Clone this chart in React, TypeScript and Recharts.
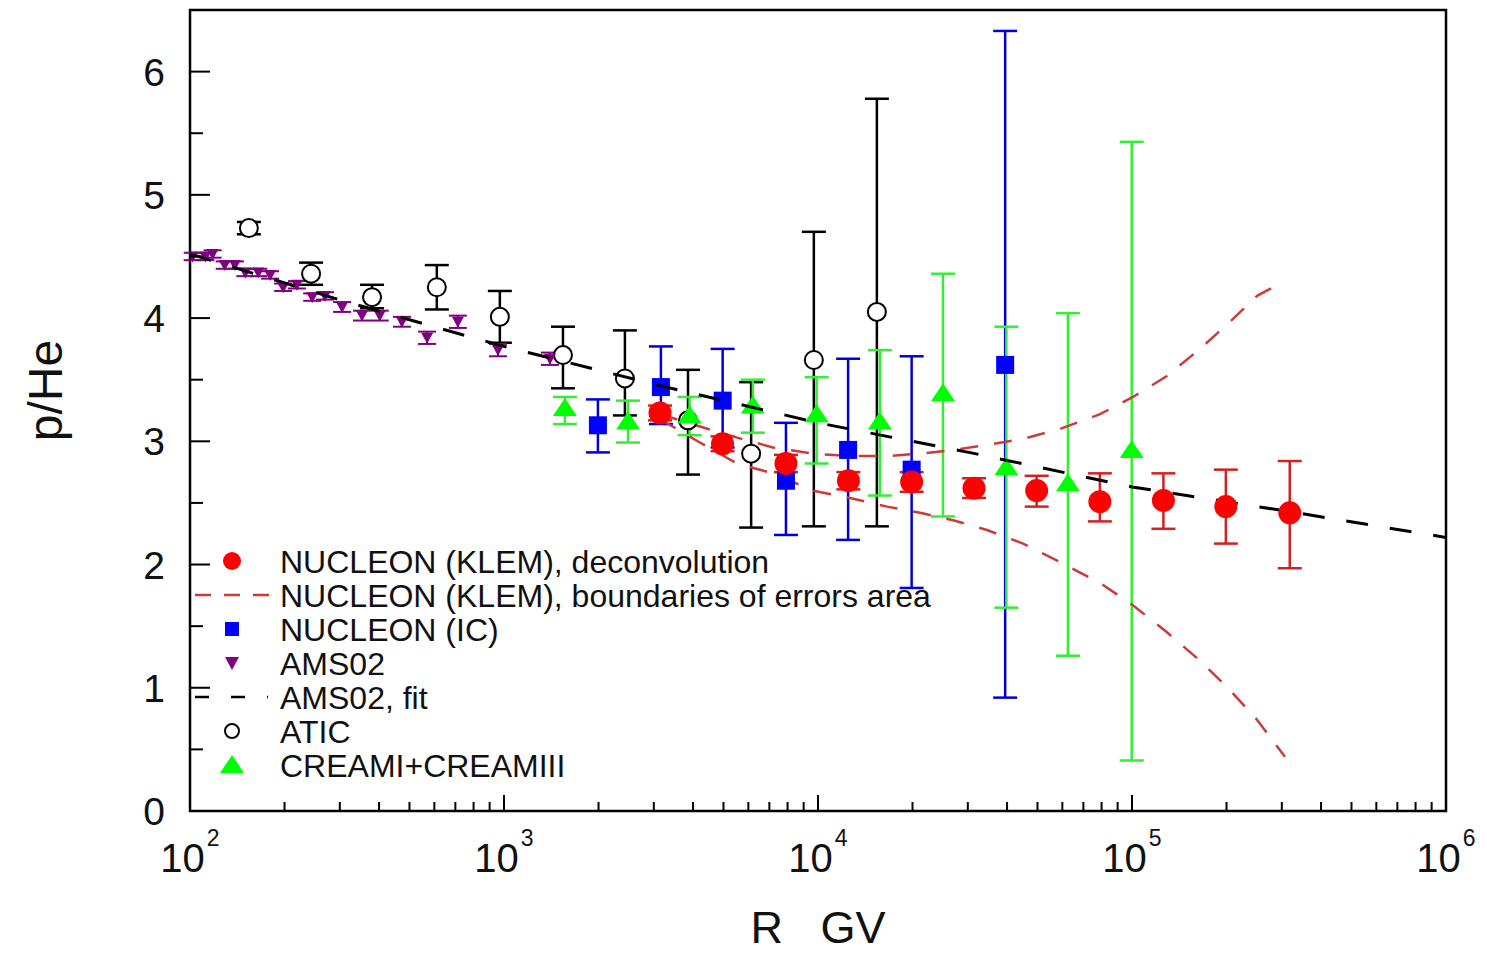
import React from 'react';
import { ScatterChart, Scatter, XAxis, YAxis, ErrorBar, ReferenceArea, Legend } from 'recharts';

const FONT = '"Liberation Sans", Arial, Helvetica, sans-serif';

// [R (GV), p/He, error down, error up]
const KLEM_POINTS = [
  [3140, 3.23, 0.06, 0.06],
  [4966, 2.98, 0.06, 0.06],
  [7906, 2.82, 0.07, 0.07],
  [12500, 2.68, 0.07, 0.07],
  [19870, 2.67, 0.08, 0.08],
  [31400, 2.62, 0.08, 0.08],
  [49700, 2.6, 0.13, 0.12],
  [79000, 2.51, 0.16, 0.23],
  [125900, 2.52, 0.23, 0.22],
  [199000, 2.47, 0.3, 0.3],
  [318000, 2.42, 0.45, 0.42],
];

// [R (GV), p/He]
const KLEM_UPPER = [
  [3141, 3.22], [4207, 3.12], [5521, 3.03], [7190, 2.95], [9640, 2.9],
  [12650, 2.88], [16600, 2.88], [21140, 2.9], [26920, 2.93], [34530, 2.97],
  [44980, 3.02], [59020, 3.1], [79120, 3.22], [100700, 3.36], [129200, 3.53],
  [164700, 3.75], [205300, 3.97], [250200, 4.18], [307000, 4.3],
];

const KLEM_LOWER = [
  [3141, 3.18], [4207, 2.99], [5521, 2.82], [7190, 2.74], [9640, 2.6],
  [12650, 2.54], [16600, 2.47], [21140, 2.42], [26920, 2.36], [34530, 2.28],
  [44980, 2.17], [59020, 2.02], [79120, 1.85], [100700, 1.67], [129200, 1.45],
  [164700, 1.22], [205300, 0.98], [250200, 0.74], [307000, 0.44],
];

const IC_POINTS = [
  [1991, 3.13, 0.22, 0.21],
  [3160, 3.44, 0.3, 0.33],
  [4970, 3.33, 0.38, 0.42],
  [7906, 2.68, 0.44, 0.47],
  [12470, 2.93, 0.73, 0.74],
  [19870, 2.77, 0.96, 0.92],
  [39450, 3.62, 2.7, 2.71],
];

const AMS_POINTS = [
  [102, 4.5, 0.03, 0.03], [112, 4.5, 0.03, 0.03], [118, 4.52, 0.03, 0.03],
  [129, 4.43, 0.03, 0.03], [139, 4.43, 0.03, 0.03], [150, 4.37, 0.03, 0.03],
  [165, 4.37, 0.03, 0.03], [180, 4.35, 0.03, 0.03], [198, 4.25, 0.03, 0.03],
  [219, 4.27, 0.03, 0.03], [245, 4.17, 0.03, 0.03], [269, 4.18, 0.03, 0.03],
  [305, 4.09, 0.04, 0.04], [353, 4.02, 0.04, 0.04], [402, 4.02, 0.04, 0.04],
  [473, 3.97, 0.04, 0.04], [569, 3.84, 0.05, 0.05], [713, 3.97, 0.05, 0.05],
  [957, 3.74, 0.05, 0.05], [1400, 3.67, 0.05, 0.05],
];

const AMS_FIT = [
  [100, 4.52], [316, 4.13], [1000, 3.77], [3162, 3.45], [10000, 3.15],
  [31623, 2.9], [100000, 2.63], [316228, 2.43], [1000000, 2.22],
];

const ATIC_POINTS = [
  [154, 4.73, 0.05, 0.05],
  [243, 4.36, 0.09, 0.09],
  [380, 4.17, 0.09, 0.1],
  [611, 4.25, 0.18, 0.18],
  [970, 4.01, 0.21, 0.21],
  [1541, 3.7, 0.27, 0.23],
  [2427, 3.51, 0.3, 0.39],
  [3855, 3.17, 0.44, 0.41],
  [6124, 2.9, 0.6, 0.58],
  [9700, 3.66, 1.35, 1.04],
  [15400, 4.05, 1.74, 1.73],
];

const CREAM_POINTS = [
  [1563, 3.27, 0.13, 0.09],
  [2483, 3.16, 0.17, 0.17],
  [3900, 3.21, 0.16, 0.15],
  [6200, 3.29, 0.22, 0.21],
  [9900, 3.22, 0.4, 0.3],
  [15740, 3.16, 0.6, 0.58],
  [25000, 3.39, 1.0, 0.97],
  [39800, 2.79, 1.14, 1.14],
  [62500, 2.66, 1.4, 1.38],
  [99800, 2.93, 2.52, 2.5],
];

const X_DECADES = [100, 1000, 10000, 100000, 1000000];
const X_MINOR_STEPS = [2, 3, 4, 5, 6, 7, 8, 9];
const X_TICKS = X_DECADES.flatMap((d, i) =>
  i < X_DECADES.length - 1 ? [d, ...X_MINOR_STEPS.map((m) => d * m)] : [d]
);
const Y_TICKS = [0, 0.5, 1, 1.5, 2, 2.5, 3, 3.5, 4, 4.5, 5, 5.5, 6];

const LEGEND_ITEMS = [
  { label: 'NUCLEON (KLEM), deconvolution', icon: 'klem' },
  { label: 'NUCLEON (KLEM), boundaries of errors area', icon: 'bounds' },
  { label: 'NUCLEON (IC)', icon: 'ic' },
  { label: 'AMS02', icon: 'ams' },
  { label: 'AMS02, fit', icon: 'fit' },
  { label: 'ATIC', icon: 'atic' },
  { label: 'CREAMI+CREAMIII', icon: 'cream' },
];

const toPoints = (rows) => rows.map(([x, y, lo, hi]) => ({ x, y, err: [lo, hi] }));
const toLine = (rows) => rows.map(([x, y]) => ({ x, y }));

const Y_GAP = 25;
const X_GAP = 32;

const YTick = (props) => {
  const { x, y, payload } = props;
  const axisX = x + Y_GAP;
  const major = Number.isInteger(payload.value);
  return (
    <g>
      <line x1={axisX} x2={axisX + (major ? 20 : 13)} y1={y} y2={y} stroke="#000" strokeWidth={2} />
      {major && (
        <text x={x} y={y} dy="0.36em" textAnchor="end" fontSize={39} fontFamily={FONT} fill="#111">
          {payload.value}
        </text>
      )}
    </g>
  );
};

const XTick = (props) => {
  const { x, y, payload } = props;
  const axisY = y - X_GAP;
  const exp = Math.log10(payload.value);
  const major = Math.abs(exp - Math.round(exp)) < 1e-6;
  return (
    <g>
      <line x1={x} x2={x} y1={axisY} y2={axisY - (major ? 16 : 9)} stroke="#000" strokeWidth={2} />
      {major && (
        <text x={x} y={y} dy="0.72em" textAnchor="middle" fontSize={40} fontFamily={FONT} fill="#111">
          10
          <tspan dx={2} dy={-26} fontSize={23}>{Math.round(exp)}</tspan>
        </text>
      )}
    </g>
  );
};

const RedDot = ({ cx, cy }) => <circle cx={cx} cy={cy} r={11.5} fill="#ff0000" />;
const BlueSquare = ({ cx, cy }) => <rect x={cx - 9} y={cy - 9} width={18} height={18} fill="#0000ff" />;
const GreenTriangle = ({ cx, cy }) => (
  <polygon points={`${cx},${cy - 10} ${cx + 12},${cy + 8} ${cx - 12},${cy + 8}`} fill="#00ff00" />
);
const PurpleTriangle = ({ cx, cy }) => (
  <polygon points={`${cx - 6},${cy - 5} ${cx + 6},${cy - 5} ${cx},${cy + 6}`} fill="#800080" />
);
const OpenCircle = ({ cx, cy }) => (
  <circle cx={cx} cy={cy} r={9} fill="#fff" stroke="#000" strokeWidth={2} />
);
const NoDot = () => <g />;

const LegendIcon = ({ icon, cx, cy }) => {
  switch (icon) {
    case 'klem':
      return <circle cx={cx} cy={cy} r={9} fill="#ff0000" />;
    case 'bounds':
      return <line x1={cx - 37} x2={cx + 42} y1={cy} y2={cy} stroke="#cc3b3b" strokeWidth={2.5} strokeDasharray="16 13" />;
    case 'ic':
      return <rect x={cx - 7} y={cy - 7} width={14} height={14} fill="#0000ff" />;
    case 'ams':
      return <polygon points={`${cx - 7},${cy - 6} ${cx + 7},${cy - 6} ${cx},${cy + 7}`} fill="#800080" />;
    case 'fit':
      return <line x1={cx - 37} x2={cx + 36} y1={cy} y2={cy} stroke="#000" strokeWidth={2.5} strokeDasharray="14 22" />;
    case 'atic':
      return <circle cx={cx} cy={cy} r={7} fill="#fff" stroke="#000" strokeWidth={2} />;
    case 'cream':
      return <polygon points={`${cx},${cy - 10} ${cx + 12},${cy + 8} ${cx - 12},${cy + 8}`} fill="#00ff00" />;
    default:
      return null;
  }
};

const renderLegend = () => (
  <svg width={760} height={245} style={{ display: 'block' }}>
    {LEGEND_ITEMS.map((item, i) => {
      const cy = 21 + i * 34;
      return (
        <g key={item.label}>
          <LegendIcon icon={item.icon} cx={42} cy={cy} />
          <text x={90} y={cy} dy="0.36em" fontSize={32} fontFamily={FONT} fill="#111">
            {item.label}
          </text>
        </g>
      );
    })}
  </svg>
);

const YTitle = ({ viewBox }) => {
  const cx = viewBox.x - 45;
  const cy = viewBox.y + viewBox.height / 2 - 20;
  return (
    <text
      x={cx}
      y={cy}
      transform={`rotate(-90 ${cx} ${cy})`}
      textAnchor="middle"
      dominantBaseline="central"
      fontSize={48}
      fontFamily={FONT}
      fill="#111"
    >
      p/He
    </text>
  );
};

const XTitle = ({ viewBox }) => (
  <text
    x={viewBox.x + viewBox.width / 2}
    y={viewBox.y + viewBox.height + 32}
    textAnchor="middle"
    fontSize={45}
    fontFamily={FONT}
    fill="#111"
  >
    {'R\u00a0\u00a0\u00a0GV'}
  </text>
);

export default function App() {
  return (
    <div style={{ position: 'absolute', left: 0, top: 0, background: '#fff' }}>
      <ScatterChart width={1487} height={955} margin={{ top: 10, right: 41, bottom: 44, left: 90 }}>
        <XAxis
          dataKey="x"
          type="number"
          scale="log"
          domain={[100, 1000000]}
          allowDataOverflow
          ticks={X_TICKS}
          interval={0}
          tick={<XTick />}
          tickLine={false}
          tickSize={0}
          tickMargin={X_GAP}
          axisLine={false}
          height={100}
          label={{ content: XTitle }}
        />
        <YAxis
          dataKey="y"
          type="number"
          domain={[0, 6.5]}
          allowDataOverflow
          ticks={Y_TICKS}
          interval={0}
          tick={<YTick />}
          tickLine={false}
          tickSize={0}
          tickMargin={Y_GAP}
          axisLine={false}
          width={100}
          label={{ content: YTitle }}
        />
        <ReferenceArea x1={100} x2={1000000} y1={0} y2={6.5} fill="none" stroke="#000" strokeWidth={2.5} />

        <Scatter
          name="upper"
          data={toLine(KLEM_UPPER)}
          line={{ stroke: '#cc3b3b', strokeWidth: 2.5, strokeDasharray: '18 16' }}
          shape={NoDot}
          legendType="none"
          isAnimationActive={false}
        />
        <Scatter
          name="lower"
          data={toLine(KLEM_LOWER)}
          line={{ stroke: '#cc3b3b', strokeWidth: 2.5, strokeDasharray: '18 16' }}
          shape={NoDot}
          legendType="none"
          isAnimationActive={false}
        />
        <Scatter name="NUCLEON (IC)" data={toPoints(IC_POINTS)} shape={BlueSquare} isAnimationActive={false}>
          <ErrorBar dataKey="err" direction="y" width={12} stroke="#0000dd" strokeWidth={2.5} />
        </Scatter>
        <Scatter name="ATIC" data={toPoints(ATIC_POINTS)} shape={OpenCircle} isAnimationActive={false}>
          <ErrorBar dataKey="err" direction="y" width={12} stroke="#000" strokeWidth={2.5} />
        </Scatter>
        <Scatter name="CREAMI+CREAMIII" data={toPoints(CREAM_POINTS)} shape={GreenTriangle} isAnimationActive={false}>
          <ErrorBar dataKey="err" direction="y" width={12} stroke="#33ee33" strokeWidth={2.5} />
        </Scatter>
        <Scatter name="AMS02" data={toPoints(AMS_POINTS)} shape={PurpleTriangle} isAnimationActive={false}>
          <ErrorBar dataKey="err" direction="y" width={9} stroke="#800080" strokeWidth={2} />
        </Scatter>
        <Scatter
          name="AMS02, fit"
          data={toLine(AMS_FIT)}
          line={{ stroke: '#000', strokeWidth: 3, strokeDasharray: '22 22' }}
          shape={NoDot}
          isAnimationActive={false}
        />
        <Scatter name="NUCLEON (KLEM)" data={toPoints(KLEM_POINTS)} shape={RedDot} isAnimationActive={false}>
          <ErrorBar dataKey="err" direction="y" width={12} stroke="#d42020" strokeWidth={2.5} />
        </Scatter>

        <Legend
          layout="horizontal"
          verticalAlign="middle"
          align="center"
          content={renderLegend}
          wrapperStyle={{ left: 190, top: 540, width: 760, height: 245 }}
        />
      </ScatterChart>
    </div>
  );
}
